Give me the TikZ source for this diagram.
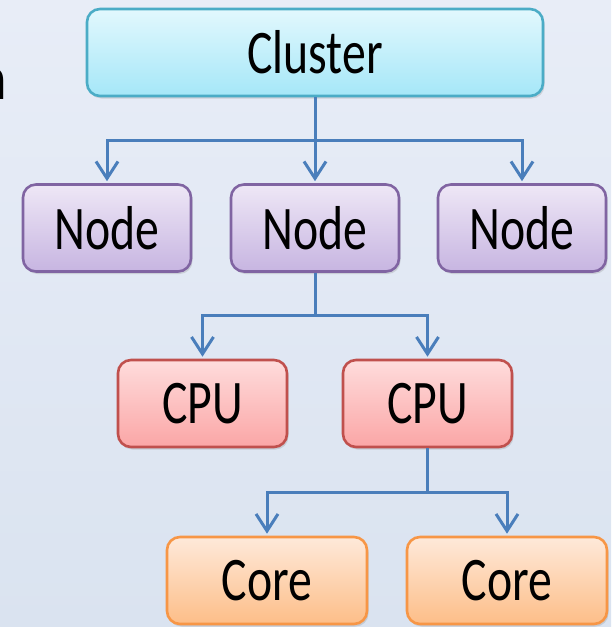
\documentclass[tikz,border=0pt]{standalone}
\usepackage{fontspec}
\setmainfont{Carlito}[FakeStretch=0.77]
\usepackage{xcolor}
\usetikzlibrary{positioning,arrows.meta,calc,shadows}
\definecolor{bgtop}{HTML}{E8EDF7}
\definecolor{bgbot}{HTML}{DAE3F0}
\definecolor{wire}{HTML}{4A7EBB}
\definecolor{clu}{HTML}{4BACC6}
\definecolor{clutop}{HTML}{E2F8FD}
\definecolor{clubot}{HTML}{A5E7F8}
\definecolor{nod}{HTML}{8064A2}
\definecolor{nodtop}{HTML}{EEE7F6}
\definecolor{nodbot}{HTML}{C7B5E1}
\definecolor{cpu}{HTML}{C0504D}
\definecolor{cputop}{HTML}{FEDCDC}
\definecolor{cpubot}{HTML}{FBA6A6}
\definecolor{cor}{HTML}{F79646}
\definecolor{cortop}{HTML}{FEE9DA}
\definecolor{corbot}{HTML}{FDBE88}

\begin{document}
\begin{tikzpicture}[x=1pt, y=-1pt,
  box/.style={draw, line width=2.6pt, rounded corners=13pt, minimum height=87pt, inner sep=0pt,
    font=\fontsize{62}{70}\selectfont,
    drop shadow={shadow xshift=1.5pt, shadow yshift=-2.5pt, opacity=.25}},
  clubox/.style={box, draw=clu, top color=clutop, bottom color=clubot, minimum width=456pt},
  nodbox/.style={box, draw=nod, top color=nodtop, bottom color=nodbot, minimum width=168pt},
  cpubox/.style={box, draw=cpu, top color=cputop, bottom color=cpubot, minimum width=169pt},
  corbox/.style={box, draw=cor, top color=cortop, bottom color=corbot, minimum width=200pt},
  feed/.style={draw=wire, line width=3pt, -{Straight Barb[length=17pt, width=22pt]}, shorten >=2pt}]
\useasboundingbox (0,0) rectangle (611,627);
\shade[top color=bgtop, bottom color=bgbot] (0,0) rectangle (611,627);
\node[font=\fontsize{62}{70}\selectfont, anchor=base east, inner sep=0pt] (cut) at (7,99) {n};

\node[clubox] (cl) at (315,52.5) {Cluster};
\node[nodbox] (n1) at (107,228) {Node};
\node[nodbox] (n2) at (315,228) {Node};
\node[nodbox] (n3) at (522,228) {Node};
\node[cpubox] (c1) at (202.5,403.5) {CPU};
\node[cpubox] (c2) at (427.5,403.5) {CPU};
\node[corbox] (k1) at (267,580.5) {Core};
\node[corbox] (k2) at (507,580.5) {Core};

\foreach \n in {n1,n2,n3}
  \draw[feed] (cl.south) |- ($(cl.south)!.5!(n1.north)$) -| (\n.north);
\foreach \c in {c1,c2}
  \draw[feed] (n2.south) |- ($(n2.south)!.5!(c1.north)$) -| (\c.north);
\foreach \k in {k1,k2}
  \draw[feed] (c2.south) |- ($(c2.south)!.5!(k1.north)$) -| (\k.north);
\end{tikzpicture}
\end{document}
